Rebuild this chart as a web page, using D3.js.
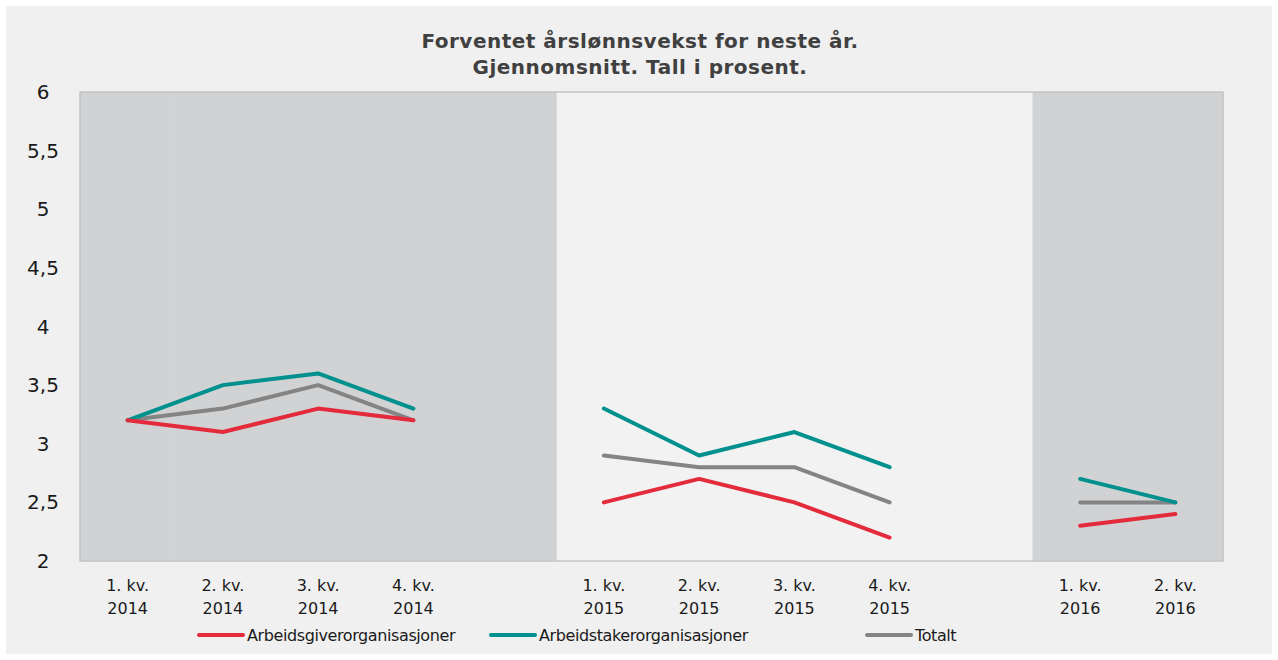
<!DOCTYPE html>
<html lang="no">
<head>
<meta charset="utf-8" />
<script src="https://d3js.org/d3.v7.min.js"></script>
<style>
  html, body { margin: 0; padding: 0; background: #ffffff; }
  svg { display: block; font-family: "DejaVu Sans", Verdana, sans-serif; }
</style>
</head>
<body>
<svg id="canvas" width="1278" height="660"></svg>
<script>
// quarters, with empty slots between the years
var categories = ["q1-14", "q2-14", "q3-14", "q4-14", "gap1",
                  "q1-15", "q2-15", "q3-15", "q4-15", "gap2",
                  "q1-16", "q2-16"];
var tickLines = {
  "q1-14": ["1. kv.", "2014"], "q2-14": ["2. kv.", "2014"],
  "q3-14": ["3. kv.", "2014"], "q4-14": ["4. kv.", "2014"],
  "q1-15": ["1. kv.", "2015"], "q2-15": ["2. kv.", "2015"],
  "q3-15": ["3. kv.", "2015"], "q4-15": ["4. kv.", "2015"],
  "q1-16": ["1. kv.", "2016"], "q2-16": ["2. kv.", "2016"]
};
var arbeidsgiver = [3.2, 3.1, 3.3, 3.2, null, 2.5, 2.7, 2.5, 2.2, null, 2.3, 2.4];
var arbeidstaker = [3.2, 3.5, 3.6, 3.3, null, 3.3, 2.9, 3.1, 2.8, null, 2.7, 2.5];
var totalt       = [3.2, 3.3, 3.5, 3.2, null, 2.9, 2.8, 2.8, 2.5, null, 2.5, 2.5];
// background shading per slot (grey for 2014 and 2016)
var shade = [6, 6, 6, 6, 6, 0, 0, 0, 0, 0, 6, 6];
var yTicks = [2, 2.5, 3, 3.5, 4, 4.5, 5, 5.5, 6];

var series = [
  { name: "Arbeidsgiverorganisasjoner", values: arbeidsgiver, color: "#e32b3c" },
  { name: "Arbeidstakerorganisasjoner", values: arbeidstaker, color: "#00908e" },
  { name: "Totalt", values: totalt, color: "#848484" }
];

var svg = d3.select("#canvas");

// outer panel
svg.append("rect").attr("x", 6).attr("y", 6).attr("width", 1266).attr("height", 648)
  .attr("fill", "#f0f0f0");

var pLeft = 80, pRight = 1223, pTop = 92, pBottom = 561;

var x = d3.scaleBand().domain(categories).range([pLeft, pRight]).padding(0);
var y = d3.scaleLinear().domain([2, 6]).range([pBottom, pTop]);

// plot background
svg.append("rect").attr("x", pLeft).attr("y", pTop).attr("width", pRight - pLeft).attr("height", pBottom - pTop)
  .attr("fill", "#f2f2f2");

svg.append("g").selectAll("rect")
  .data(shade.map(function(v, i){ return { c: categories[i], v: v }; }).filter(function(d){ return d.v > 0; }))
  .enter().append("rect")
  .attr("x", function(d){ return x(d.c); })
  .attr("y", function(d){ return y(d.v); })
  .attr("width", x.bandwidth() + 0.5)
  .attr("height", function(d){ return y(2) - y(d.v); })
  .attr("fill", "#d1d2d4");

svg.append("rect").attr("x", pLeft).attr("y", pTop).attr("width", pRight - pLeft).attr("height", pBottom - pTop)
  .attr("fill", "none").attr("stroke", "#c4c4c4").attr("stroke-width", 1.5);

// title
var title = svg.append("text").attr("text-anchor", "middle").attr("font-weight", "bold")
  .attr("font-size", 20).attr("letter-spacing", 0.5).attr("fill", "#404040");
title.append("tspan").attr("x", 640).attr("y", 48).text("Forventet årslønnsvekst for neste år.");
title.append("tspan").attr("x", 640).attr("y", 74).text("Gjennomsnitt. Tall i prosent.");

// y axis labels
svg.append("g").selectAll("text").data(yTicks).enter().append("text")
  .attr("x", 43).attr("y", function(d){ return y(d) + 7; })
  .attr("text-anchor", "middle").attr("font-size", 20).attr("fill", "#1a1a1a")
  .text(function(d){ return d3.format(".1~f")(d).replace(".", ","); });

// x axis labels
var xl = svg.append("g").selectAll("text")
  .data(categories.filter(function(c){ return tickLines[c]; }))
  .enter().append("text")
  .attr("text-anchor", "middle").attr("font-size", 16).attr("fill", "#1a1a1a");
xl.append("tspan").attr("x", function(d){ return x(d) + x.bandwidth() / 2; }).attr("y", 591)
  .text(function(d){ return tickLines[d][0]; });
xl.append("tspan").attr("x", function(d){ return x(d) + x.bandwidth() / 2; }).attr("y", 614)
  .text(function(d){ return tickLines[d][1]; });

// lines
var line = d3.line()
  .defined(function(d){ return d != null; })
  .x(function(d, i){ return x(categories[i]) + x.bandwidth() / 2; })
  .y(function(d){ return y(d); });

svg.append("g").selectAll("path").data(series.slice().reverse()).enter().append("path")
  .attr("d", function(s){ return line(s.values); })
  .attr("fill", "none")
  .attr("stroke", function(s){ return s.color; })
  .attr("stroke-width", 4)
  .attr("stroke-linejoin", "round")
  .attr("stroke-linecap", "round");

// legend
var legendX = [199, 491, 867];
var lg = svg.append("g").selectAll("g").data(series).enter().append("g")
  .attr("transform", function(d, i){ return "translate(" + legendX[i] + ",635)"; });
lg.append("line").attr("x1", 0).attr("x2", 44).attr("y1", 0).attr("y2", 0)
  .attr("stroke", function(d){ return d.color; }).attr("stroke-width", 4).attr("stroke-linecap", "round");
lg.append("text").attr("x", 48).attr("y", 6).attr("font-size", 16).attr("letter-spacing", -0.4)
  .attr("fill", "#1a1a1a")
  .text(function(d){ return d.name; });
</script>
</body>
</html>
